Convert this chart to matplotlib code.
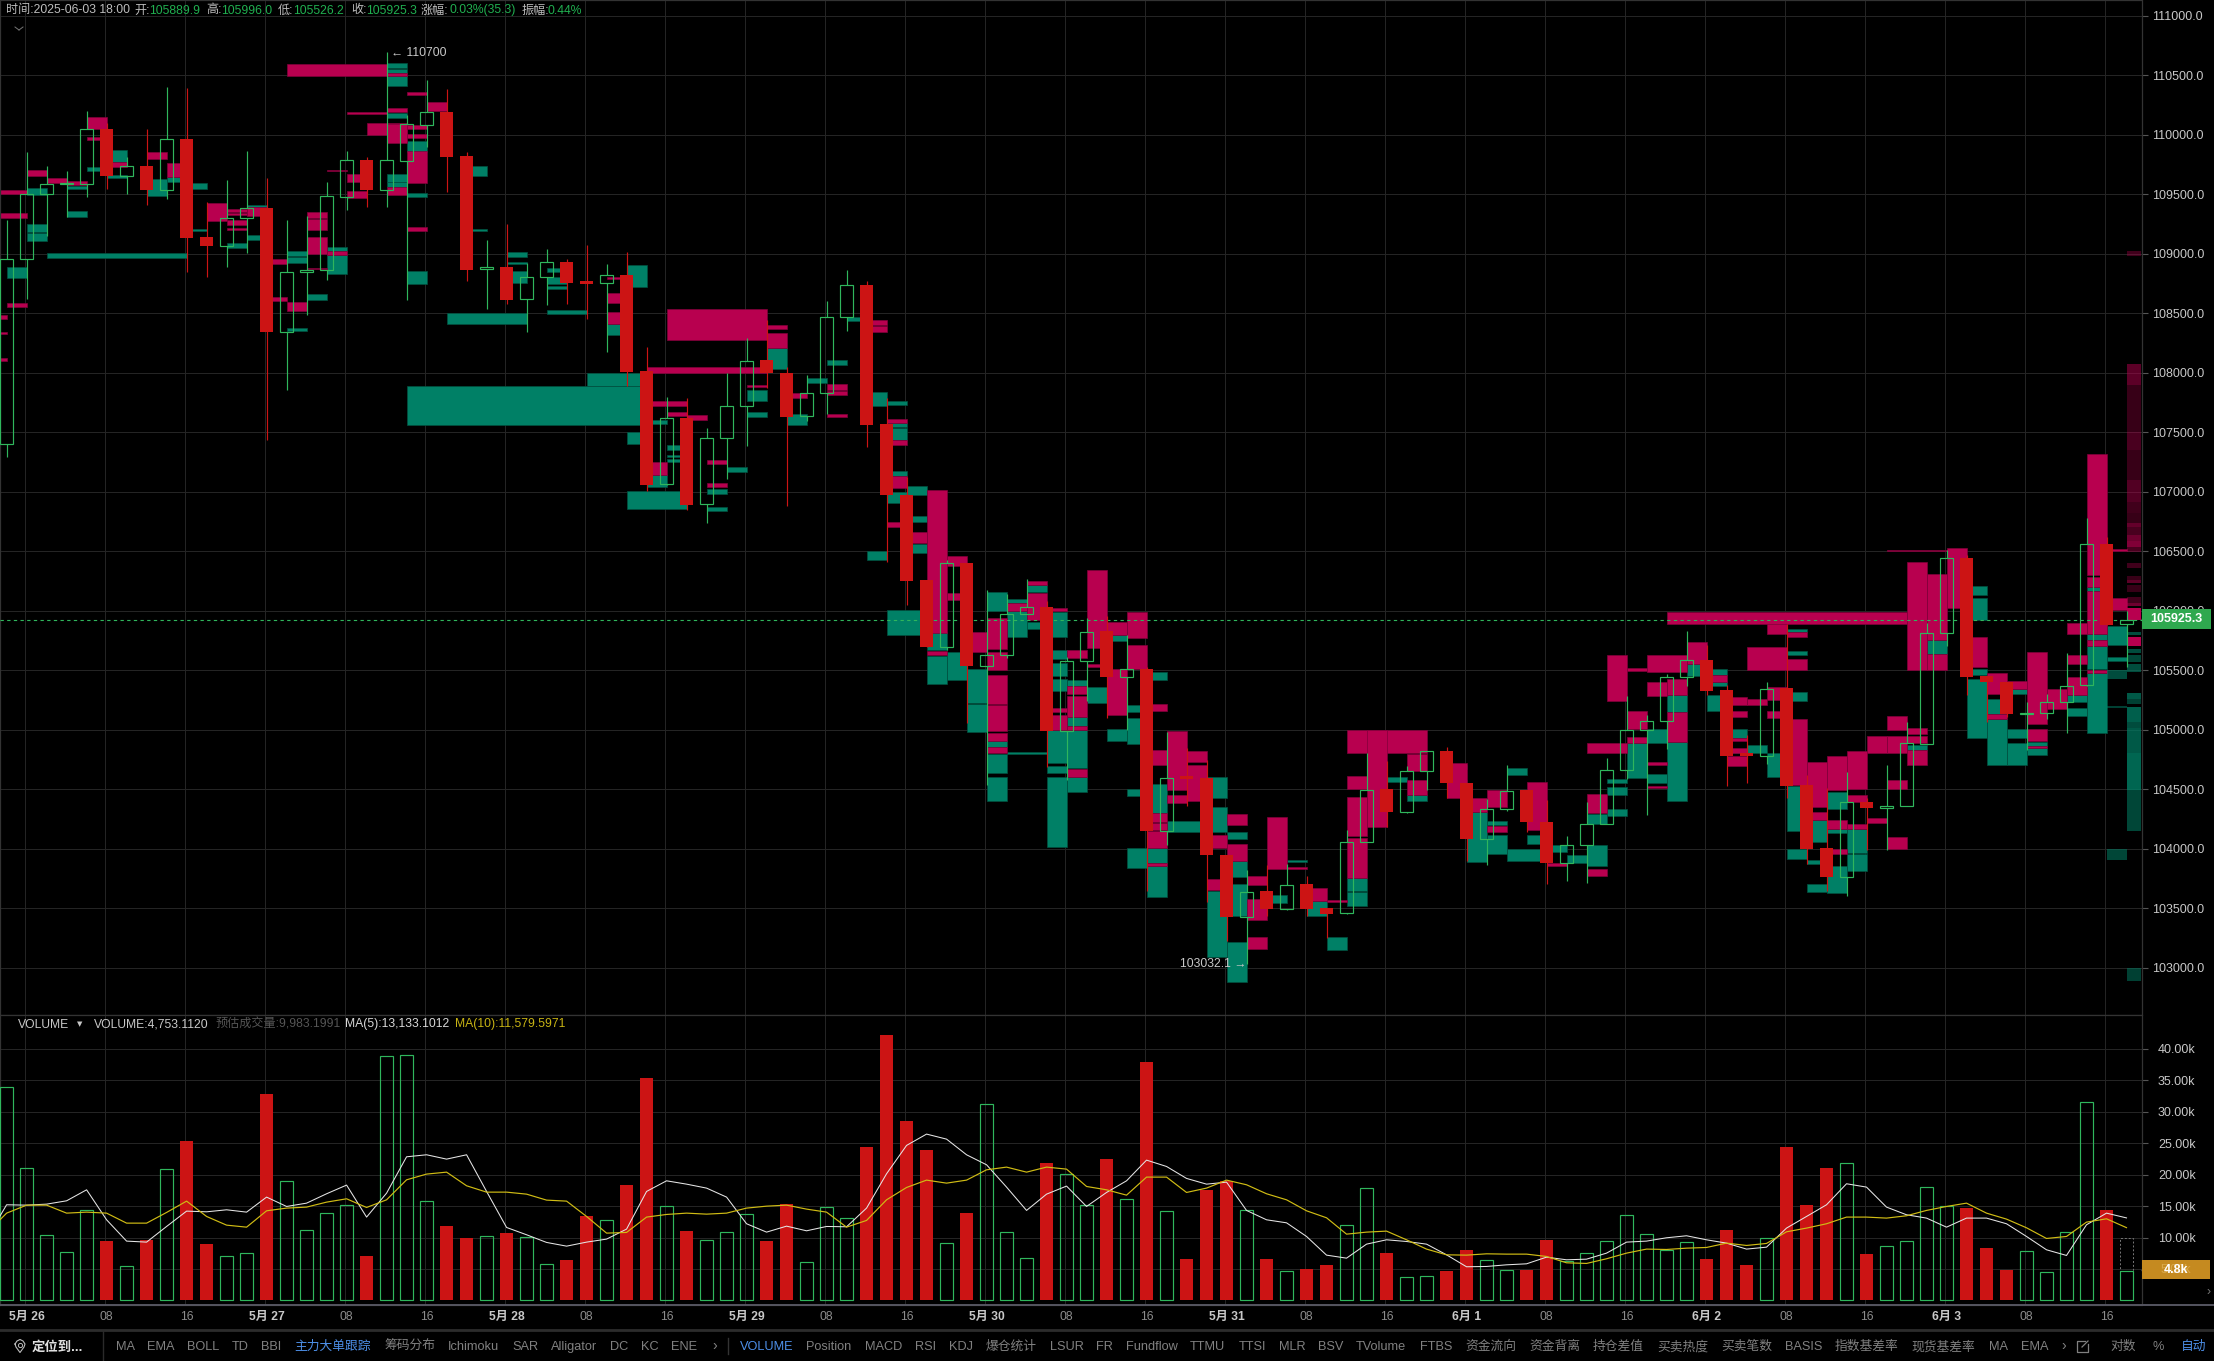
import matplotlib
matplotlib.use('Agg')
import matplotlib.pyplot as plt

plt.rcParams['font.family'] = ['Liberation Sans', 'Noto Sans CJK SC', 'DejaVu Sans']

W, H = 2214, 1361

opens = [107405,108953,109499,109583,109589,110046,109656,109738,109539,109965,109141,109068,109298,109384,108345,108843,108860,109480,109788,109539,
         109782,110085,110192,109822,108869,108888,108616,108801,108928,108762,108751,108821,108014,107061,107619,106893,107448,107719,108106,107996,
         107633,107833,108465,108734,107568,106973,106260,105698,106403,105539,105624,105975,106032,104993,105579,105828,105445,105510,104145,104602,
         104593,103949,103428,103644,103489,103701,103501,103460,104060,104500,104304,104654,104821,104548,104085,104337,104491,104228,103883,104034,
         104211,104665,105001,105077,105447,105585,105332,104794,104780,105349,104533,104004,103763,104396,104345,104362,104881,105809,106439,105450,
         105405,105136,105142,105234,105372,106557,105889.9]
highs = [109283,109855,109738,109696,110197,110100,109816,110049,110399,110394,109435,109617,109864,109634,109284,109317,109600,109861,109810,110700,
         110166,110461,110385,109855,109115,109253,108919,109040,108958,109073,108913,109014,108213,107798,107790,107532,107999,108289,108444,108049,
         107984,108599,108860,108770,107784,107120,106260,106427,106403,106174,106142,106264,106081,105612,105938,105958,105795,105530,104980,104850,
         104748,103949,103819,103860,103868,103770,103501,104158,104805,104736,104695,104817,104858,104548,104421,104702,104491,104407,104107,104393,
         104760,105284,105122,105472,105828,105708,105374,104959,105399,105887,104617,104514,104645,104427,104702,105066,105893,106510,106467,105450,
         105405,105234,105304,105646,106776,106616,105996]
lows = [107293,108619,109152,109312,109480,109544,109499,109412,109457,108849,108807,108891,109009,107439,107854,108485,108779,109368,109390,109390,
        108611,109900,109516,108771,108535,108577,108339,108569,108577,108451,108176,107890,107005,107055,106845,106740,107106,107385,107874,106883,
        107597,107650,108355,107377,106407,106052,105698,105673,105054,104532,105604,105971,104687,104573,105245,105095,105001,103648,104035,104361,
        103554,103228,103032,103432,103485,103432,103249,103452,104060,104186,104300,104491,104430,103900,103861,104317,104141,103706,103729,103712,
        104208,104589,104281,104839,105369,105290,104525,104550,104715,104427,103875,103645,103603,103987,103987,104360,104881,105705,105290,105066,
        105108,104828,105094,104973,105369,105879,105526.2]
closes = [108953,109499,109583,109595,110046,109656,109735,109536,109962,109135,109065,109298,109382,108345,108843,108860,109483,109785,109536,109785,
          110088,110189,109816,108866,108886,108614,108801,108928,108757,108748,108818,108008,107055,107616,106887,107448,107717,108102,107996,107629,
          107833,108465,108734,107564,106969,106252,105698,106398,105535,105624,105975,106028,104993,105579,105824,105445,105506,104145,104597,104585,
          103945,103428,103640,103489,103697,103497,103452,104060,104496,104304,104654,104817,104548,104080,104337,104486,104225,103880,104034,104211,
          104665,105001,105077,105447,105582,105327,104780,104780,105346,104528,103995,103763,104396,104343,104362,104884,105809,106439,105444,105402,
          105133,105144,105234,105369,106557,105879,105925.3]

volumes = [33.9,21.05,10.4,7.69,14.37,9.49,5.46,9.65,20.9,25.4,9.01,7.05,7.53,32.87,18.98,11.19,13.89,15.16,7.1,38.87,
           39.0,15.8,11.88,9.97,10.23,10.76,10.07,5.78,6.47,13.47,12.78,18.4,35.42,15.0,11.08,9.6,10.87,13.73,9.49,15.38,
           6.1,14.85,13.1,24.44,42.26,28.58,23.97,9.12,13.95,31.23,10.87,6.73,21.9,20.1,15.16,22.53,16.12,37.96,14.21,6.63,
           17.6,18.93,14.37,6.63,4.67,5.04,5.67,11.98,17.87,7.58,3.71,3.87,4.72,8.06,6.42,4.82,4.88,9.65,6.2,7.53,
           9.44,13.57,10.55,8.0,9.28,6.63,11.24,5.67,9.92,24.44,15.2,21.1,21.85,7.42,8.64,9.44,18.03,14.95,14.74,8.38,
           4.88,7.85,4.51,10.87,31.55,14.42,4.753]
estimated_volume = 9.983

ma5 = [9.8,15.22,15.16,15.32,15.85,17.6,12.83,9.44,9.28,11.77,14.21,14.1,14.42,14.05,16.44,14.95,15.48,16.97,18.35,13.26,17.07,
       22.85,23.17,22.48,23.17,17.34,11.61,10.45,9.23,8.64,9.28,9.76,11.35,17.34,19.03,18.5,17.87,16.44,
       12.2,10.87,11.82,11.08,11.77,11.72,14.69,20.15,24.66,26.46,25.66,23.17,21.58,18.03,14.32,16.91,18.19,14.95,17.18,19.03,
       22.32,21.31,19.41,18.5,18.82,14.32,12.83,12.35,10.18,7.21,6.73,8.96,9.65,9.38,8.96,7.26,5.36,
       5.41,5.67,5.83,6.89,6.47,6.57,7.53,9.28,9.44,9.97,10.29,9.65,9.12,8.17,8.48,11.51,13.36,15.22,18.56,18.03,14.85,13.63,13.1,
       11.66,13.1,13.1,12.2,10.18,8.06,7.16,12.04,13.89,13.13]
ma10 = [10.7,13.89,15.16,15.16,13.89,14.05,13.89,12.3,12.3,14.0,15.8,13.36,11.98,11.66,14.26,14.69,14.85,15.64,16.17,14.79,16.01,
        19.19,20.1,20.41,18.24,17.23,17.23,16.91,15.96,15.8,13.36,10.71,10.82,13.26,13.68,13.89,13.73,13.89,
        14.69,15.0,15.16,14.53,14.05,11.66,12.73,16.01,17.97,19.14,18.66,19.14,20.78,21.21,20.41,21.21,20.89,18.13,17.6,16.75,
        19.62,19.62,17.18,17.87,19.14,18.4,16.97,16.01,14.26,13.15,10.55,10.87,11.03,9.65,8.17,7.26,7.21,
        7.42,7.37,7.37,7.0,5.99,5.89,6.63,7.53,8.17,8.11,8.32,8.43,9.12,8.75,9.07,10.92,11.51,12.2,13.26,13.26,13.1,13.47,14.32,
        14.95,15.48,13.89,12.94,11.56,9.86,10.18,12.46,12.99,11.58]

# large-order zones: (first candle, last candle, high price, low price)
crimson_zones = [
 (-1,1,109533,109499),(-1,1,109342,109300),(0,1,108583,108552),(-1,0,108482,108448),(-1,0,108342,108325),(-1,0,108123,108100),
 (1,2,109707,109651),(2,3,109640,109597),(3,4,109611,109581),(4,5,110152,110046),(4,5,109981,109959),(5,6,109774,109732),
 (7,8,109855,109799),(8,9,109760,109642),(10,11,109429,109272),(11,12,109373,109354),(11,12,109340,109323),(11,12,109281,109244),
 (11,12,109216,109200),(12,13,109390,109320),(13,14,108958,108911),(13,14,108633,108602),(14,15,108594,108521),
 (15,16,109351,109300),(15,16,109292,109200),(15,16,109138,108998),(15,16,108883,108869),(16,17,109023,108989),(16,17,109707,109698),
 (17,18,109673,109603),(17,18,109530,109468),(17,19,110192,110175),(18,20,110099,109995),(19,20,110228,110189),(19,20,110091,109934),
 (19,20,109558,109497),(20,21,110357,110332),(20,21,110080,110049),(20,21,110007,109976),(20,21,109861,109597),(20,21,109227,109194),
 (21,22,110273,110200),(14,19,110592,110497),(19,20,110517,110497),(30,31,108667,108586),(30,31,108507,108412),(30,31,108807,108790),
 (33,38,108534,108277),(32,38,108050,108000),(32,34,107764,107719),(33,34,107672,107635),(34,35,107644,107599),(32,33,107251,107139),
 (35,36,107265,107234),(35,36,107072,107039),
 (38,39,108403,108367),(38,39,108330,108212),(39,40,107829,107788),(41,42,107906,107857),(41,42,107845,107813),(41,42,107654,107629),
 (37,38,107894,107882),(43,44,108444,108399),(43,44,108391,108342),(44,45,107609,107580),(44,45,107434,107397),(44,45,107132,107030),
 (44,45,106749,106704),(45,46,106663,106570),(46,47,107018,105816),(46,47,105661,105624),(47,48,106456,106378),(47,48,106150,106089),
 (48,49,105824,105653),(49,50,105938,105681),(49,50,105657,105502),(49,50,105461,105217),(49,50,105205,104985),(49,50,104976,104907),
 (49,50,104854,104801),(50,51,106068,105999),(51,52,106252,106215),(51,52,106150,105926),(52,53,106024,105995),(53,54,105669,105604),
 (53,54,105368,105298),(53,54,105286,105103),(53,54,105030,105001),(53,54,104667,104605),(52,53,105184,105151),(52,53,105123,105001),
 (54,55,106346,105686),(54,55,105551,105527),(55,56,105905,105795),(55,56,105510,105123),(56,57,105987,105767),(56,57,105714,105510),
 (57,58,105217,105155),(57,58,104826,104703),(57,58,104296,104226),(57,58,104214,104157),(57,58,104145,104002),(57,58,103880,103851),
 (58,59,104993,104491),(58,59,104451,104381),(59,60,104817,104728),(59,60,104707,104402),(60,61,104112,104002),(60,61,103746,103656),
 (61,62,104288,104198),(61,62,104043,103900),(62,63,103770,103697),(62,63,103574,103399),(62,63,103256,103155),(63,64,104263,103831),
 (64,65,103843,103827),(65,66,103672,103558),(66,67,103567,103555),(67,68,104614,104500),(67,68,104434,104104),(67,68,104092,103754),
 (67,71,105000,104805),(68,69,105001,104186),(70,71,104797,104654),(70,71,104581,104451),(72,73,104724,104430),(73,74,104430,104308),
 (74,75,104491,104351),(74,75,104189,104141),(76,77,104561,104155),(77,78,103880,103855),(79,80,104463,104303),(79,80,103827,103768),
 (79,81,104892,104802),(80,81,105627,105237),(81,82,105158,105010),(81,82,104940,104884),(81,82,105520,105492),(82,84,105627,105486),
 (82,83,105402,105287),(82,83,104727,104702),(82,83,104528,104514),(83,84,105422,105290),(83,84,105150,104898),(84,85,105741,105556),
 (85,86,105458,105402),(86,87,105271,105206),(86,87,105155,105108),(86,87,104926,104906),(86,87,104842,104800),(86,87,104777,104693),
 (87,88,105262,105206),(87,89,105694,105500),(88,89,105360,105248),(88,89,105158,105099),(88,89,105907,105803),(83,95,105991,105890),
 (89,90,105817,105778),(89,90,105590,105500),(89,90,105088,104533),(90,91,104730,104351),(90,91,104309,104244),(91,92,104777,104497),
 (91,92,104244,104169),(91,92,104001,103952),(92,93,104819,104503),(92,93,104449,104393),(92,93,104205,104169),(93,94,104945,104805),
 (93,94,104261,104219),(94,95,105114,105001),(94,95,104945,104805),(94,95,104575,104503),(94,95,104099,104001),(95,96,106409,105500),
 (95,96,105013,104962),(95,96,104945,104884),(95,96,104828,104701),(96,97,106308,105758),(96,97,105640,105500),(97,98,106526,106019),
 (94,97,106510,106501),(98,99,105781,105523),(99,100,105478,105304),(99,100,105130,105094),(100,101,105410,105346),
 (101,102,105649,105046),(101,102,105010,104906),(101,102,104861,104850),(102,103,105346,105178),(103,104,105627,105556),
 (103,104,105444,105290),(103,104,105893,105803),(104,105,107320,106296),(104,105,106280,106201),(104,105,106167,105803),
 (104,105,105758,105702),(104,105,105500,105478),(105,106,106109,106005),(105,106,106515,106504),
]
teal_zones = [
 (0,1,108885,108796),(1,2,109550,109494),(1,2,109250,109185),(1,2,109174,109110),(3,4,109569,109544),(3,4,109359,109309),(4,5,109732,109696),
 (5,6,109875,109774),(5,6,109665,109640),(7,8,109625,109485),(8,9,109642,109606),(2,9,109003,108967),(9,10,109592,109544),(9,10,109205,109191),
 (12,13,109410,109396),(12,13,109157,109118),(11,12,109090,109048),(14,15,109023,108981),(14,15,108972,108919),(14,15,108375,108347),
 (15,16,108661,108611),(16,17,109054,109023),(16,17,108989,108829),(19,20,110601,110559),(19,20,110553,110517),(19,20,110494,110413),
 (19,20,110183,110144),(19,20,109670,109606),(19,20,109606,109558),(20,21,109951,109858),(20,21,109510,109480),(20,21,108855,108748),
 (23,24,109740,109656),(23,24,109205,109191),(22,26,108504,108409),(25,26,109017,108972),(25,26,108930,108914),(25,26,108857,108751),
 (27,28,108883,108849),(27,28,108801,108742),(27,28,108728,108706),(27,29,108527,108496),(30,31,108409,108316),(31,32,108902,108723),
 (20,32,107888,107560),(29,32,107999,107888),(31,32,107506,107400),(32,33,107607,107568),(33,34,107397,107349),(33,34,107307,107288),
 (33,34,107277,107249),(31,34,107005,106859),(35,36,107021,106985),(35,36,106873,106836),(36,37,107204,107162),(32,33,107139,107036),
 (37,38,107853,107764),(37,38,107670,107629),(38,39,108212,108033),(39,40,107650,107564),(40,41,107955,107914),(41,42,108106,108065),
 (42,43,108465,108432),(43,44,107841,107723),(43,44,106500,106427),(44,45,107764,107731),(44,45,107576,107548),(44,45,107535,107434),
 (44,45,107177,107132),(44,45,107000,106904),(45,46,107050,106969),(45,46,106794,106745),(45,46,106557,106488),(44,46,106007,105795),
 (46,47,105824,105673),(46,47,105620,105380),(47,48,105653,105416),(48,49,105510,105225),(48,49,105213,104977),(49,50,106154,105999),
 (49,50,104907,104858),(49,50,104797,104634),(49,50,104605,104398),(50,51,106101,106068),(50,51,105999,105775),(51,52,106215,106154),
 (51,52,105905,105844),(50,52,104809,104797),(52,53,105987,105775),(52,53,105673,105592),(52,53,105559,105449),(52,53,105429,105327),
 (52,53,105001,104716),(52,53,104696,104634),(52,53,104601,104010),(53,54,105416,105368),(53,54,105103,105030),(53,54,105001,104675),
 (53,54,104605,104479),(54,55,105355,105225),(55,56,105795,105742),(55,56,105009,104903),(56,57,105205,105151),(56,57,105098,104879),
 (56,57,104504,104439),(56,57,104002,103839),(57,58,105482,105416),(57,58,104544,104296),(57,58,104002,103880),(57,58,103851,103595),
 (58,60,104235,104141),(60,61,104605,104430),(60,61,104349,104137),(60,61,103648,103086),(61,62,104137,104080),(61,62,103900,103758),
 (61,62,103705,103432),(61,62,103212,102882),(63,64,103607,103542),(64,65,103908,103892),(65,66,103558,103432),(66,67,103256,103146),
 (67,68,103754,103648),(67,68,103640,103522),(69,70,104601,104561),(70,71,104451,104398),(72,73,104703,104667),(72,73,104573,104463),
 (73,74,104308,103884),(74,75,104233,104197),(74,75,104113,103953),(75,76,104674,104620),(75,77,104001,103894),(76,77,104118,104043),
 (77,78,104034,103973),(78,79,103950,103880),(79,80,104034,103855),(79,80,104295,104211),(80,81,104589,104556),(80,81,104519,104449),
 (80,81,104337,104273),(81,82,104884,104595),(82,83,105004,104889),(82,83,104626,104556),(83,84,105290,105150),(83,84,104895,104401),
 (84,85,105688,105668),(84,85,105551,105450),(85,86,105506,105458),(85,86,105402,105366),(85,86,105290,105158),(86,87,105004,104934),
 (86,87,104828,104805),(87,88,104870,104800),(88,89,104805,104603),(89,90,105845,105817),(89,90,105660,105627),(89,90,105318,105243),
 (89,90,104525,104146),(89,90,104001,103916),(90,91,103908,103875),(90,91,104244,104057),(90,91,103706,103636),(91,92,104474,104337),
 (91,92,104169,104132),(91,92,103855,103628),(92,93,104169,103967),(92,93,103953,103810),(95,96,104870,104828),(96,97,105753,105640),
 (98,99,106207,106131),(98,99,106103,105921),(98,99,105506,105458),(98,99,105430,104931),(99,100,105254,105130),(99,100,105094,104701),
 (100,101,105346,105304),(100,101,105004,104934),(100,101,104889,104701),(101,102,104900,104861),(101,102,104850,104786),
 (103,104,105290,105234),(103,104,105186,105116),(104,105,106201,106167),(104,105,105803,105758),(104,105,105702,105506),(104,105,105478,104976),
 (105,106,105870,105710),(105,106,105607,105576),
]
# newest zones fade with age: (first, last, high, low, opacity)
crimson_recent = [
 (106,107,109020,108980,.35),(106,107,108070,107900,.5),(106,107,107900,107500,.3),(106,107,107500,107350,.4),(106,107,107350,107100,.3),
 (106,107,107100,106916,.45),(106,107,106916,106818,.35),(106,107,106818,106739,.3),(106,107,106739,106706,.55),(106,107,106706,106636,.4),
 (106,107,106636,106588,.6),(106,107,106588,106537,.7),(106,107,106537,106495,.4),(106,107,106397,106355,.35),(106,107,106291,106257,.3),
 (106,107,106257,106229,.5),(106,107,106215,106159,.3),(106,107,106117,106061,.35),(106,107,106061,106039,.6),(106,107,106019,105921,1),
 (106,107,105775,105702,1),
]
teal_recent = [
 (106,107,105823,105795,.6),(106,107,105677,105646,.6),(106,107,105627,105565,.55),(106,107,105556,105486,.6),(106,107,105310,105257,.7),
 (106,107,105257,105220,.5),(106,107,105192,105066,.75),(106,107,105066,105018,.6),(106,107,105018,104805,.7),(106,107,104805,104491,.8),
 (106,107,104491,104146,.55),(106,107,103000,102888,.5),(105,106,105500,105425,.6),(105,106,105200,105180,.5),(105,106,104001,103908,.55),
]

price_ticks = list(range(103000, 111001, 500))
volume_ticks = [5, 10, 15, 20, 25, 30, 35, 40]
date_ticks = {1:'5月 26',13:'5月 27',25:'5月 28',37:'5月 29',49:'5月 30',61:'5月 31',73:'6月 1',85:'6月 2',97:'6月 3'}
hour_ticks = {5:'08',9:'16',17:'08',21:'16',29:'08',33:'16',41:'08',45:'16',53:'08',57:'16',65:'08',69:'16',77:'08',81:'16',89:'08',93:'16',101:'08',105:'16'}

header = [(5.7,'时间:2025-06-03 18:00','#bdbdbd'),(134.5,'开:','#bdbdbd'),(149,'105889.9','#20b050'),(206,'高:','#bdbdbd'),(221,'105996.0','#20b050'),
          (278,'低:','#bdbdbd'),(293,'105526.2','#20b050'),(351,'收:','#bdbdbd'),(366,'105925.3','#20b050'),(421,'涨幅:','#bdbdbd'),
          (450,'0.03%(35.3)','#20b050'),(521.5,'振幅:','#bdbdbd'),(548,'0.44%','#20b050')]
volume_header = [(17.5,'VOLUME','#c8c8c8'),(94.4,'VOLUME:4,753.1120','#c8c8c8'),(215.7,'预估成交量:9,983.1991','#555555'),
                 (345.4,'MA(5):13,133.1012','#d8d8d8'),(454.5,'MA(10):11,579.5971','#c8b414')]
toolbar = [(115.6,'MA'),(146.8,'EMA'),(186.9,'BOLL'),(232,'TD'),(261.4,'BBI'),(294.5,'主力大单跟踪*'),(384.6,'筹码分布'),(448.3,'Ichimoku'),(512.5,'SAR'),
           (551,'Alligator'),(610,'DC'),(640.9,'KC'),(671,'ENE'),(740,'VOLUME*'),(806.5,'Position'),(865,'MACD'),(915,'RSI'),(949,'KDJ'),(985.4,'爆仓统计'),
           (1049.6,'LSUR'),(1096.3,'FR'),(1125.6,'Fundflow'),(1190,'TTMU'),(1238.8,'TTSI'),(1278.5,'MLR'),(1318,'BSV'),(1355.9,'TVolume'),(1419.6,'FTBS'),
           (1464.9,'资金流向'),(1529,'资金背离'),(1592.8,'持仓差值'),(1657,'买卖热度'),(1721,'买卖笔数'),(1784.8,'BASIS'),(1834.4,'指数基差率'),(1911.6,'现货基差率'),
           (1989.4,'MA'),(2020.7,'EMA'),(2110.6,'对数'),(2152.8,'%'),(2181.3,'自动*')]

RED, GREEN, CRIMSON, TEAL = '#cc1414', '#2fb65c', '#b8004f', '#008066'
GRID = '#242424'
BLUE = '#4d8fe8'

fig = plt.figure(figsize=(W/100, H/100), dpi=100, facecolor='#000000')
X_RIGHT = 2141.5
def axes_px(top, bottom):
    return fig.add_axes([0, 1-bottom/H, X_RIGHT/W, (bottom-top)/H], facecolor='#000000')
ax = axes_px(0, 1015)
av = axes_px(1015, 1305)
xlim = (-0.33, 106.75)

def ftext(x, y, s, **kw):
    kw.setdefault('va', 'center')
    kw.setdefault('fontsize', 8.7)
    return fig.text(x/W, 1-y/H, s, **kw)

# main panel
ax.set_xlim(*xlim)
ax.set_ylim(102602, 111133)
grid_x = [i-0.07 for i in range(1, 107, 4)]
for a in (ax, av):
    a.set_xticks(grid_x)
    a.grid(True, color=GRID, lw=0.72)
    a.set_axisbelow(True)
    a.yaxis.tick_right()
    for s in a.spines.values():
        s.set_color('#333333'); s.set_linewidth(0.9)
ax.set_yticks(price_ticks)
ax.set_yticklabels([f'{p:.1f}' for p in price_ticks])
ax.tick_params(axis='y', colors='#555555', labelcolor='#c8c8c8', length=4.3, width=0.8, pad=3, labelsize=9.0)
ax.tick_params(axis='x', length=0, labelbottom=False)

def draw_zones(zones, color, edge):
    for z in zones:
        s, e, hi, lo = z[:4]
        alpha = z[4] if len(z) > 4 else 1
        ax.bar(s, hi-lo, width=min(e, 106.75)-s, bottom=lo, align='edge', color=color, alpha=alpha,
               edgecolor=edge, linewidth=0.5, zorder=2)
draw_zones(teal_zones, TEAL, '#00503f')
draw_zones(crimson_zones, CRIMSON, '#80003a')
draw_zones(teal_recent, TEAL, 'none')
draw_zones(crimson_recent, CRIMSON, 'none')

ax.axhline(closes[-1], color=GREEN, lw=0.8, ls=(0, (3, 3)), zorder=3)
CW = 0.62
for i, (o, h, l, c) in enumerate(zip(opens, highs, lows, closes)):
    top, bot = max(o, c), min(o, c)
    if c < o:
        ax.vlines(i, l, h, color=RED, lw=0.85, zorder=4)
        ax.bar(i, max(top-bot, 25), width=CW+0.04, bottom=bot, color=RED, linewidth=0, zorder=5)
    else:
        ax.vlines(i, top, h, color=GREEN, lw=0.85, zorder=4)
        ax.vlines(i, l, bot, color=GREEN, lw=0.85, zorder=4)
        ax.bar(i, top-bot, width=CW, bottom=bot, facecolor='none', edgecolor=GREEN, linewidth=0.85, zorder=5)

ax.annotate('← 110700', (19, 110700), xytext=(3, -1), textcoords='offset points', color='#c8c8c8', fontsize=8.7, va='center', zorder=8)
ax.annotate('103032.1 →', (62, 103032), xytext=(0, 0), textcoords='offset points', color='#c8c8c8', fontsize=8.7, va='center', ha='right', zorder=8)

# volume panel
av.set_xlim(*xlim)
av.set_ylim(-0.72, 45.4)
av.set_yticks(volume_ticks)
av.set_yticklabels(['' if v == 5 else f'{v}.00k' for v in volume_ticks])
av.tick_params(axis='y', colors='#555555', labelcolor='#c8c8c8', length=4.3, width=0.8, pad=7.6, labelsize=9.0)
av.tick_params(axis='x', length=0, labelbottom=False)
for i, (o, c, v) in enumerate(zip(opens, closes, volumes)):
    if c < o:
        av.bar(i, v, width=CW+0.04, color=RED, linewidth=0, zorder=3)
    else:
        av.bar(i, v, width=CW, facecolor='none', edgecolor=GREEN, linewidth=0.85, zorder=3)
av.bar(106, estimated_volume, width=CW, facecolor='none', edgecolor='#777777', linewidth=0.7, ls=(0, (2, 2)), zorder=2)
ma_x = list(range(-1, 107))
av.plot(ma_x, ma5, color='#e6e6e6', lw=0.75, zorder=4)
av.plot(ma_x, ma10, color='#d0bc14', lw=0.85, zorder=4)

# time axis labels
for i, s in {**hour_ticks, **date_ticks}.items():
    bold = i in date_ticks
    ftext(6.6 + 20*i, 1317, s, ha='center', color='#c8c8c8' if bold else '#8c8c8c', fontweight='bold' if bold else 'normal', fontsize=8.7)

# frame lines outside the axes
line = lambda x0, x1, y0, y1, c, w: fig.add_artist(plt.Line2D([x0/W, x1/W], [1-y0/H, 1-y1/H], color=c, lw=w))
line(0, W, 1305, 1305, '#555560', 1.4)
line(0, W, 1330, 1330, '#2c2c2c', 2)
line(103, 103, 1331, 1361, '#2a2a2a', 1)
line(728, 728, 1338, 1354, '#333333', 1)

# header texts
for x, s, c in header:
    ftext(x, 10.5, s, color=c)
line(15, 19, 27, 30, '#777777', 0.7)
line(19, 23, 30, 27, '#777777', 0.7)
for x, s, c in volume_header:
    ftext(x, 1024.5, s, color=c)
ftext(77, 1024.5, '▼', color='#c8c8c8', fontsize=5, family=['DejaVu Sans'])

# last-price tags
ftext(2176, 619, '105925.3', ha='center', color='white', fontsize=9.0, fontweight='bold', zorder=12)
fig.patches.append(plt.Rectangle((2141.5/W, 1-629/H), 69.5/W, 20/H, transform=fig.transFigure, fc='#2fa84f', ec='none', zorder=10))
fig.patches.append(plt.Rectangle((2141.5/W, 1-1279.3/H), 68.5/W, 19.3/H, transform=fig.transFigure, fc='#c58a20', ec='none', zorder=10))
ftext(2176, 1269.6, '5.00k', ha='center', color='#d9a84a', fontsize=9.0, zorder=11)
ftext(2176, 1269.6, '4.8k', ha='center', color='white', fontsize=9.0, fontweight='bold', zorder=12)
line(2141.5, 2148, 619, 619, 'white', 1)
line(2141.5, 2148, 1270, 1270, 'white', 1)
ftext(2209, 1292, '›', color='#777777', ha='center', fontsize=9)

# toolbar
pin_x, pin_y = [15, 17, 20, 23, 25, 24, 20, 16, 15], [1344, 1341, 1339.5, 1341, 1344, 1347, 1352.5, 1347, 1344]
fig.add_artist(plt.Line2D([x/W for x in pin_x], [1-y/H for y in pin_y], color='#bbbbbb', lw=0.8))
fig.add_artist(plt.Line2D([20/W], [1-1344.5/H], marker='o', ms=3, mfc='none', mec='#bbbbbb', mew=0.7, ls='none'))
ftext(31.6, 1347, '定位到...', color='#e0e0e0', fontweight='bold', fontsize=9.6)
for x, s in toolbar:
    active = s.endswith('*')
    ftext(x, 1347, s.rstrip('*'), color=BLUE if active else '#808080', fontsize=9.2)
ftext(712.6, 1346, '›', color='#808080', fontsize=10)
ftext(2061.5, 1346, '›', color='#808080', fontsize=10)
# share icon
icon_x, icon_y = [2085, 2077, 2077, 2088, 2088], [1341, 1341, 1352, 1352, 1344]
fig.add_artist(plt.Line2D([x/W for x in icon_x], [1-y/H for y in icon_y], color='#808080', lw=0.9))
line(2082, 2088, 1347, 1341, '#808080', 0.9)

fig.savefig('out.png', dpi=100, facecolor='#000000')
